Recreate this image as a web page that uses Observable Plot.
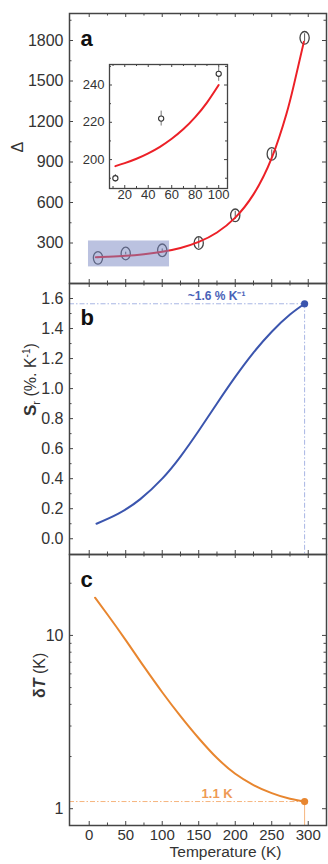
<!DOCTYPE html>
<html>
<head>
<meta charset="utf-8">
<script src="https://cdn.jsdelivr.net/npm/d3@7"></script>
<script src="https://cdn.jsdelivr.net/npm/@observablehq/plot@0.6"></script>
<style>
  body { margin: 0; width: 328px; height: 864px; position: relative; overflow: hidden; background: #fff; font-family: "Liberation Sans", Arial, sans-serif; }
  .panel { position: absolute; left: 0; }
</style>
</head>
<body>
<div id="pa" class="panel" style="top:0"></div>
<div id="pb" class="panel" style="top:283px"></div>
<div id="pc" class="panel" style="top:554px"></div>
<div id="inset" class="panel" style="top:60px;left:79px"></div>
<script>
// ---------- data ----------
// panel a: measured Delta vs temperature
const tempPoints = [12, 50, 100, 150, 200, 250, 295];
const deltaPoints = [190, 222, 246, 300, 505, 960, 1820];
const deltaErrors = [6, 10, 10, 40, 30, 30, 30];
// panel a: fitted (red) curve
const fitTemps = [9, 25, 50, 75, 100, 125, 150, 175, 200, 225, 250, 270, 280, 294];
const fitDelta = [194, 198, 205, 217, 235, 263, 308, 378, 488, 660, 930, 1254, 1464, 1790];
// highlighted low-temperature region
const highlightT = [-1, 110];
const highlightDelta = [123, 315];
// inset (zoom on 10-100 K)
const insetTemps = [12, 51, 100];
const insetDelta = [190, 222, 246];
const insetErrors = [2, 4, 4];
const insetFitT = [12, 20, 30, 40, 50, 60, 70, 80, 90, 100];
const insetFitD = [196.5, 198.1, 200.45, 203.35, 206.85, 211.15, 216.35, 222.75, 230.55, 240];
// panel b: relative sensitivity Sr
const srTemps = [10, 40, 70, 100, 125, 150, 175, 200, 225, 250, 275, 295];
const srValues = [0.10, 0.167, 0.264, 0.400, 0.547, 0.719, 0.901, 1.078, 1.240, 1.379, 1.493, 1.565];
const srPeak = [{T: 295, S: 1.565, label: "~1.6 % K⁻¹"}];
// panel c: temperature uncertainty
const dtTemps = [8, 25, 50, 75, 100, 125, 150, 175, 200, 225, 250, 275, 295];
const dtValues = [16.5, 13.2, 9.4, 6.6, 4.7, 3.42, 2.55, 1.96, 1.59, 1.37, 1.23, 1.14, 1.10];
const dtMin = [{T: 295, D: 1.1, label: "1.1 K"}];
// ticks
const xMajor = [0, 50, 100, 150, 200, 250, 300];
const xMinor = [25, 75, 125, 175, 225, 275];
const aMajor = [300, 600, 900, 1200, 1500, 1800];
const aMinor = [150, 450, 750, 1050, 1350, 1650, 1950];
const bMajor = [0, 0.2, 0.4, 0.6, 0.8, 1.0, 1.2, 1.4, 1.6];
const bMinor = [0.1, 0.3, 0.5, 0.7, 0.9, 1.1, 1.3, 1.5];
const cMajor = [1, 10];
const cMinor = [2, 3, 4, 5, 6, 7, 8, 9, 20];
const insetXMajor = [20, 40, 60, 80, 100];
const insetXMinor = [10, 30, 50, 70, 90];
const insetYMajor = [200, 220, 240];
const insetYMinor = [190, 210, 230, 250];

// ---------- layout ----------
const W = 328, ML = 69, MR = 2;
const FW = W - ML - MR;
const xDomain = [-27, 325];
const ink = "#444";
const font = '"Liberation Sans", Arial, sans-serif';
const baseStyle = {background: "transparent", overflow: "visible", fontFamily: font, color: "#333"};
const plain = d => String(d);

function edgeTicks(H, fw, xMaj, xMin, yMaj, yMin, maj = 4, min = 2.5, sw = 1) {
  const o = {stroke: ink, strokeWidth: sw};
  return [
    Plot.ruleX(xMaj, {...o, insetBottom: H - maj}),
    Plot.ruleX(xMin, {...o, insetBottom: H - min}),
    Plot.ruleX(xMaj, {...o, insetTop: H - maj}),
    Plot.ruleX(xMin, {...o, insetTop: H - min}),
    Plot.ruleY(yMaj, {...o, insetRight: fw - maj}),
    Plot.ruleY(yMin, {...o, insetRight: fw - min}),
    Plot.ruleY(yMaj, {...o, insetLeft: fw - maj}),
    Plot.ruleY(yMin, {...o, insetLeft: fw - min})
  ];
}

const ellipse = {draw(ctx, size) {
  const r = Math.sqrt(size / Math.PI), rx = r * 0.87, ry = r * 1.19, k = 0.5523;
  ctx.moveTo(rx, 0);
  ctx.bezierCurveTo(rx, ry * k, rx * k, ry, 0, ry);
  ctx.bezierCurveTo(-rx * k, ry, -rx, ry * k, -rx, 0);
  ctx.bezierCurveTo(-rx, -ry * k, -rx * k, -ry, 0, -ry);
  ctx.bezierCurveTo(rx * k, -ry, rx, -ry * k, rx, 0);
  ctx.closePath();
}};

// ---------- panel a ----------
const ptsA = tempPoints.map((T, i) => ({T, v: deltaPoints[i], e: deltaErrors[i]}));
const fitA = fitTemps.map((T, i) => ({T, v: fitDelta[i]}));
const hl = [{x1: highlightT[0], x2: highlightT[1], y1: highlightDelta[0], y2: highlightDelta[1]}];
const HA = 270;
const plotA = Plot.plot({
  width: W, height: 284, marginLeft: ML, marginRight: MR, marginTop: 13, marginBottom: 1,
  style: baseStyle,
  x: {domain: xDomain, axis: null},
  y: {domain: [0, 2000]},
  marks: [
    ...edgeTicks(HA, FW, xMajor, xMinor, aMajor, aMinor),
    Plot.axisY(aMajor, {anchor: "left", tickSize: 0, tickPadding: 6, fontSize: 16, label: null, fill: "#333", tickFormat: plain}),
    Plot.ruleX(ptsA, {x: "T", y1: d => d.v - d.e, y2: d => d.v + d.e, stroke: "#555", strokeWidth: 1}),
    Plot.dot(ptsA, {x: "T", y: "v", r: 5.3, symbol: ellipse, stroke: "#444", strokeWidth: 1.3, fill: "none"}),
    Plot.line(fitA, {x: "T", y: "v", curve: "natural", stroke: "#ec2027", strokeWidth: 2}),
    Plot.rect(hl, {x1: "x1", x2: "x2", y1: "y1", y2: "y2", fill: "#7886c2", fillOpacity: 0.5}),
    Plot.text(["Δ"], {frameAnchor: "left", dx: -52, dy: 4, rotate: -90, fontSize: 16, fill: "#333"}),
    Plot.text(["a"], {frameAnchor: "top-left", dx: 11, dy: 17, fontSize: 22, fontWeight: "bold", textAnchor: "start", fill: "#111"}),
    Plot.frame({stroke: ink, strokeWidth: 1.5})
  ]
});
document.getElementById("pa").appendChild(plotA);

// ---------- inset ----------
const ptsI = insetTemps.map((T, i) => ({T, v: insetDelta[i], e: insetErrors[i]}));
const fitI = insetFitT.map((T, i) => ({T, v: insetFitD[i]}));
const IW = 118, IH = 124;
const plotI = Plot.plot({
  width: 30 + IW + 6, height: 4 + IH + 20, marginLeft: 30, marginRight: 6, marginTop: 4, marginBottom: 20,
  style: baseStyle,
  x: {domain: [7, 107.5]},
  y: {domain: [184.5, 251]},
  marks: [
    Plot.frame({fill: "white", stroke: "none"}),
    ...edgeTicks(IH, IW, insetXMajor, insetXMinor, insetYMajor, insetYMinor, 3, 2),
    Plot.axisY(insetYMajor, {anchor: "left", tickSize: 0, tickPadding: 5, fontSize: 13, label: null, fill: "#333", tickFormat: plain}),
    Plot.axisX(insetXMajor, {anchor: "bottom", tickSize: 0, tickPadding: 1, fontSize: 13, label: null, fill: "#333", tickFormat: plain}),
    Plot.line(fitI, {x: "T", y: "v", curve: "natural", stroke: "#ec2027", strokeWidth: 2}),
    Plot.ruleX(ptsI, {x: "T", y1: d => d.v - d.e, y2: d => d.v + d.e, stroke: "#777", strokeWidth: 1}),
    Plot.dot(ptsI, {x: "T", y: "v", r: 2.6, stroke: "#333", strokeWidth: 1.1, fill: "white"}),
    Plot.frame({stroke: ink, strokeWidth: 1.3})
  ]
});
document.getElementById("inset").appendChild(plotI);

// ---------- panel b ----------
const lineB = srTemps.map((T, i) => ({T, S: srValues[i]}));
const HB = 271;
const yDomB = [-0.105, 1.70];
const plotB = Plot.plot({
  width: W, height: 272, marginLeft: ML, marginRight: MR, marginTop: 0, marginBottom: 1,
  style: baseStyle,
  x: {domain: xDomain, axis: null},
  y: {domain: yDomB},
  marks: [
    ...edgeTicks(HB, FW, xMajor, xMinor, bMajor, bMinor),
    Plot.axisY(bMajor, {anchor: "left", tickSize: 0, tickPadding: 6, fontSize: 16, label: null, fill: "#333", tickFormat: d3.format(".1f")}),
    Plot.ruleY(srPeak, {y: "S", x1: xDomain[0], x2: "T", stroke: "#a8b6e4", strokeWidth: 1, strokeDasharray: "5,2,1.5,2"}),
    Plot.ruleX(srPeak, {x: "T", y1: "S", y2: yDomB[0], stroke: "#a8b6e4", strokeWidth: 1, strokeDasharray: "5,2,1.5,2"}),
    Plot.line(lineB, {x: "T", y: "S", curve: "natural", stroke: "#3b55ae", strokeWidth: 2}),
    Plot.dot(srPeak, {x: "T", y: "S", r: 3.6, fill: "#3b55ae"}),
    Plot.text(srPeak, {x: "T", y: "S", text: "label", dx: -88, dy: -8, fontSize: 12, fontWeight: "bold", fill: "#4a63b8"}),
    Plot.text(["SR_LABEL"], {frameAnchor: "left", dx: -39, dy: -3, rotate: -90, fontSize: 16, fill: "#333"}),
    Plot.text(["b"], {frameAnchor: "top-left", dx: 11, dy: 26, fontSize: 22, fontWeight: "bold", textAnchor: "start", fill: "#111"}),
    Plot.frame({stroke: ink, strokeWidth: 1.5})
  ]
});
document.getElementById("pb").appendChild(plotB);
d3.select(plotB).selectAll("text").filter(function() { return this.textContent === "SR_LABEL"; }).each(function() {
  const t = d3.select(this); t.text(null);
  t.append("tspan").attr("font-weight", "bold").attr("font-size", 17).text("S");
  t.append("tspan").attr("font-size", 11).attr("dy", 4).text("r");
  t.append("tspan").attr("dy", -4).text(" (%. K");
  t.append("tspan").attr("font-size", 10).attr("dy", -6).text("-1");
  t.append("tspan").attr("dy", 6).text(")");
});

// ---------- panel c ----------
const lineC = dtTemps.map((T, i) => ({T, D: dtValues[i]}));
const HC = 271;
const yDomC = [0.8, 29.3];
const plotC = Plot.plot({
  width: W, height: 310, marginLeft: ML, marginRight: MR, marginTop: 0, marginBottom: 39,
  style: baseStyle,
  x: {domain: xDomain},
  y: {type: "log", domain: yDomC},
  marks: [
    ...edgeTicks(HC, FW, xMajor, xMinor, cMajor, cMinor),
    Plot.axisY(cMajor, {anchor: "left", tickSize: 0, tickPadding: 6, fontSize: 16, label: null, fill: "#333", tickFormat: plain}),
    Plot.axisX(xMajor, {anchor: "bottom", tickSize: 0, tickPadding: 4, fontSize: 15, label: null, fill: "#333", tickFormat: plain}),
    Plot.ruleY(dtMin, {y: "D", x1: xDomain[0], x2: "T", stroke: "#f6b57e", strokeWidth: 1, strokeDasharray: "5,2,1.5,2"}),
    Plot.ruleX(dtMin, {x: "T", y1: "D", y2: yDomC[0], stroke: "#f6b57e", strokeWidth: 1}),
    Plot.line(lineC, {x: "T", y: "D", curve: "monotone-x", stroke: "#e8862f", strokeWidth: 2}),
    Plot.dot(dtMin, {x: "T", y: "D", r: 3.6, fill: "#e8862f"}),
    Plot.text(dtMin, {x: "T", y: "D", text: "label", dx: -87.5, dy: -8, fontSize: 13, fontWeight: "bold", fill: "#ee9a55"}),
    Plot.text(["DT_LABEL"], {frameAnchor: "left", dx: -30, dy: 8, rotate: -90, fontSize: 16, fill: "#333"}),
    Plot.text(["Temperature (K)"], {frameAnchor: "bottom", dx: 27.5, dy: 31.5, fontSize: 15.5, fill: "#333"}),
    Plot.text(["c"], {frameAnchor: "top-left", dx: 11, dy: 17, fontSize: 22, fontWeight: "bold", textAnchor: "start", fill: "#111"}),
    Plot.frame({stroke: ink, strokeWidth: 1.5})
  ]
});
document.getElementById("pc").appendChild(plotC);
d3.select(plotC).selectAll("text").filter(function() { return this.textContent === "DT_LABEL"; }).each(function() {
  const t = d3.select(this); t.text(null);
  t.append("tspan").attr("font-weight", "bold").text("δ");
  t.append("tspan").attr("font-weight", "bold").attr("font-style", "italic").text("T");
  t.append("tspan").text(" (K)");
});
</script>
</body>
</html>
